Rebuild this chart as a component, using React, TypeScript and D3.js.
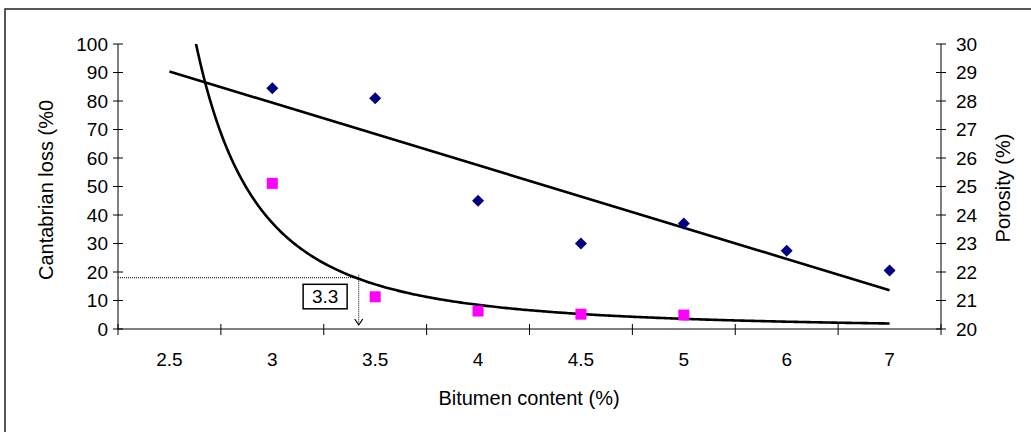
import React from "react";
import * as d3 from "d3";

// bitumen content categories (x axis)
const bitumen = ["2.5", "3", "3.5", "4", "4.5", "5", "6", "7"];
// porosity (%) - right axis, navy diamonds
const porosity: (number | null)[] = [null, 28.45, 28.1, 24.5, 23.0, 23.7, 22.75, 22.05];
// cantabrian loss (%) - left axis, magenta squares
const cantabrianLoss: (number | null)[] = [null, 51.1, 11.3, 6.3, 5.2, 4.9, null, null];

const lossTicks = d3.range(0, 101, 10);
const porosityTicks = d3.range(20, 31, 1);

// dotted read-off on the loss curve
const annotation = { bitumen: 3.42, loss: 18, label: "3.3" };

const W = 1031;
const H = 432;
const plot = { left: 118, right: 941, top: 44, bottom: 329 };
const font = "'Liberation Sans', Arial, sans-serif";

// least squares on category index (1-based), like a spreadsheet trendline
function linearFit(xs: number[], ys: number[]) {
  const mx = d3.mean(xs)!;
  const my = d3.mean(ys)!;
  const sxy = d3.sum(xs, (x, i) => (x - mx) * (ys[i] - my));
  const sxx = d3.sum(xs, (x) => (x - mx) ** 2);
  const slope = sxy / sxx;
  return { slope, intercept: my - slope * mx };
}

export default function App() {
  const x = d3.scaleBand<string>().domain(bitumen).range([plot.left, plot.right]).paddingInner(0);
  const xi = (i: number) => plot.left + (i - 0.5) * x.step(); // i = 1..8
  const yL = d3.scaleLinear().domain([0, 100]).range([plot.bottom, plot.top]);
  const yR = d3.scaleLinear().domain([20, 30]).range([plot.bottom, plot.top]);

  const porPts = porosity
    .map((v, i) => ({ i: i + 1, v }))
    .filter((d) => d.v != null) as { i: number; v: number }[];
  const lossPts = cantabrianLoss
    .map((v, i) => ({ i: i + 1, v }))
    .filter((d) => d.v != null) as { i: number; v: number }[];

  const lin = linearFit(porPts.map((d) => d.i), porPts.map((d) => d.v));
  const pow = linearFit(lossPts.map((d) => Math.log(d.i)), lossPts.map((d) => Math.log(d.v)));
  const powA = Math.exp(pow.intercept);

  const linePath = d3
    .line<number>()
    .x((i) => xi(i))
    .y((i) => yR(lin.intercept + lin.slope * i))([1, bitumen.length]);

  const curveIdx = d3.range(1, bitumen.length + 0.001, 0.02);
  const curvePath = d3
    .line<number>()
    .x((i) => xi(i))
    .y((i) => yL(powA * Math.pow(i, pow.slope)))(curveIdx);

  const toIndex = d3.scaleLinear(bitumen.map(Number), d3.range(1, bitumen.length + 1));
  const ax = xi(toIndex(annotation.bitumen));
  const ay = yL(annotation.loss);

  const edges = d3.range(bitumen.length + 1).map((k) => plot.left + k * x.step());

  return (
    <svg
      width={W}
      height={H}
      style={{ position: "absolute", left: 0, top: 0, background: "#fff" }}
      fontFamily={font}
    >
      <defs>
        <clipPath id="plotClip">
          <rect x={plot.left} y={plot.top} width={plot.right - plot.left} height={plot.bottom - plot.top} />
        </clipPath>
      </defs>
      <rect x={5} y={9} width={1100} height={500} fill="#fff" stroke="#222" strokeWidth={1.5} />

      {/* axes */}
      <line x1={plot.left} x2={plot.left} y1={plot.top} y2={plot.bottom} stroke="#000" />
      <line x1={plot.right} x2={plot.right} y1={plot.top} y2={plot.bottom} stroke="#000" />
      <line x1={plot.left} x2={plot.right} y1={plot.bottom} y2={plot.bottom} stroke="#000" />

      {lossTicks.map((t) => (
        <g key={"l" + t}>
          <line x1={plot.left - 5} x2={plot.left + 5} y1={yL(t)} y2={yL(t)} stroke="#000" />
          <text x={108} y={yL(t)} dy="0.36em" textAnchor="end" fontSize={19}>
            {t}
          </text>
        </g>
      ))}
      {porosityTicks.map((t) => (
        <g key={"r" + t}>
          <line x1={plot.right - 5} x2={plot.right + 5} y1={yR(t)} y2={yR(t)} stroke="#000" />
          <text x={956} y={yR(t)} dy="0.36em" textAnchor="start" fontSize={19}>
            {t}
          </text>
        </g>
      ))}
      {edges.map((ex, k) => (
        <line key={"e" + k} x1={ex} x2={ex} y1={plot.bottom - 5} y2={plot.bottom + 6} stroke="#000" />
      ))}
      {bitumen.map((b) => (
        <text key={"x" + b} x={x(b)! + x.bandwidth() / 2} y={366} textAnchor="middle" fontSize={19}>
          {b}
        </text>
      ))}

      <text x={529} y={405} textAnchor="middle" fontSize={20}>
        Bitumen content (%)
      </text>
      <text transform="translate(46,190) rotate(-90)" textAnchor="middle" dy="0.35em" fontSize={20}>
        Cantabrian loss (%0
      </text>
      <text transform="translate(1003,188) rotate(-90)" textAnchor="middle" dy="0.35em" fontSize={20}>
        Porosity (%)
      </text>

      {/* annotation */}
      <line x1={plot.left} x2={ax} y1={ay} y2={ay} stroke="#000" strokeDasharray="1,1" />
      <line x1={ax} x2={ax} y1={ay - 3} y2={yL(0) - 4} stroke="#000" strokeDasharray="1,1" />
      <path d={`M${ax - 4},${yL(0) - 10}L${ax},${yL(0) - 4}L${ax + 4},${yL(0) - 10}`} fill="none" stroke="#000" strokeWidth={1.2} />
      <rect x={ax - 55.6} y={ay + 6.6} width={44} height={24.5} fill="#fff" stroke="#000" strokeWidth={1.5} />
      <text x={ax - 33.6} y={ay + 18.9} dy="0.36em" textAnchor="middle" fontSize={19}>
        {annotation.label}
      </text>

      {/* trendlines */}
      <g clipPath="url(#plotClip)">
        <path d={linePath!} fill="none" stroke="#000" strokeWidth={2.6} />
        <path d={curvePath!} fill="none" stroke="#000" strokeWidth={2.6} />
      </g>

      {/* markers */}
      {porPts.map((d) => (
        <path
          key={"p" + d.i}
          transform={`translate(${xi(d.i)},${yR(d.v)})`}
          d="M0,-6L6,0L0,6L-6,0Z"
          fill="#000080"
        />
      ))}
      {lossPts.map((d) => (
        <rect key={"s" + d.i} x={xi(d.i) - 5.5} y={yL(d.v) - 5.5} width={11} height={11} fill="#FF00FF" />
      ))}
    </svg>
  );
}
